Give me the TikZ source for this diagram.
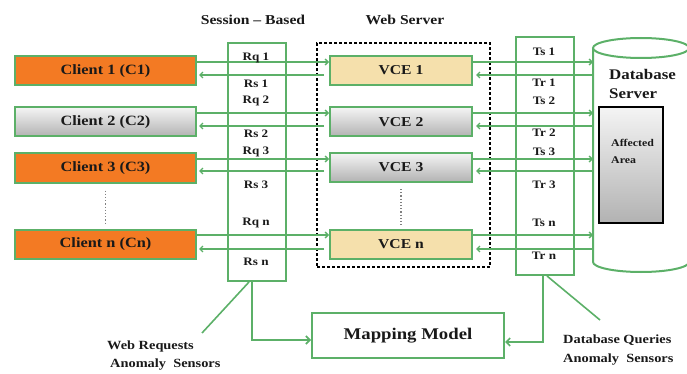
\documentclass[tikz,border=0pt]{standalone}
\usepackage{fontspec}
\setmainfont{Liberation Serif}[FakeStretch=1.15]
\usetikzlibrary{arrows.meta,calc}
\definecolor{grn}{RGB}{92,176,104}
\definecolor{orgc}{RGB}{243,122,35}
\definecolor{tanc}{RGB}{245,224,172}
\definecolor{txt}{RGB}{25,25,25}
\definecolor{greytop}{RGB}{244,244,244}
\definecolor{greybot}{RGB}{178,178,178}
\tikzset{
 box/.style={draw=grn, line width=2pt, inner sep=0pt, text=txt},
 clientbox/.style={box, minimum width=181pt, minimum height=29pt, font=\fontsize{14.2}{16}\selectfont\bfseries},
 cor/.style={clientbox, fill=orgc},
 cgr/.style={clientbox, top color=greytop, bottom color=greybot},
 vcebox/.style={box, minimum width=142pt, minimum height=29pt, font=\fontsize{13.6}{16}\selectfont\bfseries},
 vtan/.style={vcebox, fill=tanc},
 vgr/.style={vcebox, top color=greytop, bottom color=greybot},
 sensor/.style={box, minimum width=58pt, minimum height=238pt},
 lab/.style={text=txt, inner sep=0pt, font=\fontsize{11.4}{13}\selectfont\bfseries},
 ttl/.style={text=txt, inner sep=0pt, font=\fontsize{13.6}{15}\selectfont\bfseries},
 ann/.style={text=txt, inner sep=0pt, anchor=west, font=\fontsize{12.5}{14}\selectfont\bfseries},
 conn/.style={draw=grn, line width=1.3pt, -{Straight Barb[length=3pt,width=6pt]}},
 conn2/.style={draw=grn, line width=1.6pt, -{Straight Barb[length=4pt,width=8pt]}},
 gline/.style={draw=grn, line width=1.6pt},
 dots/.style={draw=gray, dotted, line width=1.2pt},
}
\begin{document}
\begin{tikzpicture}[x=1pt,y=-1pt]
\useasboundingbox (0,0) rectangle (687,374);

% titles
\node[ttl] (t1) at (253,20) {Session -- Based};
\node[ttl] (t2) at (405,20) {Web Server};

% web server dashed box
\node[draw=black, dash pattern=on 3pt off 2pt, line width=1.3pt, minimum width=173pt, minimum height=224pt, inner sep=0pt] (ws) at (403.5,155) {};

% sensor boxes
\node[sensor] (sb) at (257,162) {};
\node[sensor] (tb) at (545,156) {};

% clients
\node[cor] (c1) at (105.5,71) {Client 1 (C1)};
\node[cgr] (c2) at (105.5,122) {Client 2 (C2)};
\node[cor] (c3) at (105.5,168) {Client 3 (C3)};
\node[cor] (cn) at (105.5,244.5) {Client n (Cn)};

% VCEs
\node[vtan] (v1) at (401,70.5) {VCE 1};
\node[vgr] (v2) at (401,122) {VCE 2};
\node[vgr] (v3) at (401,167.5) {VCE 3};
\node[vtan] (vn) at (401,244) {VCE n};

% database cylinder
\begin{scope}
\clip (0,0) rectangle (687,374);
\path[draw=grn, line width=2pt, fill=white] (593,48) -- (593,262)
  arc[start angle=180, end angle=360, x radius=48pt, y radius=10pt] -- (689,48);
\draw[draw=grn, line width=2pt, fill=white] (641,48) ellipse [x radius=48pt, y radius=10pt];
\end{scope}
\coordinate (db) at (593,48);
\node[text=txt, inner sep=0pt, anchor=north west, align=left, font=\fontsize{14.7}{19}\selectfont\bfseries] (dbt) at (609,69) {Database\\Server};
\node[draw=black, line width=1.5pt, top color=greytop, bottom color=greybot, minimum width=64pt, minimum height=116pt, inner sep=0pt] (aa) at (631,165) {};
\node[text=txt, inner sep=0pt, anchor=north west, align=left, font=\fontsize{10.3}{17}\selectfont\bfseries] (aat) at (611,139) {Affected\\Area};

% client <-> VCE <-> DB connectors
\foreach \c/\v/\ya/\yb in {c1/v1/62/75, c2/v2/113/126, c3/v3/159/171, cn/vn/235/249}{
  \draw[conn] (\c.east |- 0,\ya) -- (\v.west |- 0,\ya);
  \draw[conn] ([xshift=-5pt]\v.west |- 0,\yb) -- ([xshift=2pt]\c.east |- 0,\yb);
  \draw[conn] (\v.east |- 0,\ya) -- (db |- 0,\ya);
  \draw[conn] (db |- 0,\yb) -- ([xshift=3pt]\v.east |- 0,\yb);
}

% dotted continuation
\draw[dots] ([yshift=-7pt]c3.south) -- ([yshift=4pt]cn.north);
\draw[dots] ([yshift=-6pt]v3.south) -- ([yshift=4pt]vn.north);

% session labels
\node[lab] (rq1) at (256,58) {Rq 1};
\node[lab] (rs1) at (256,84) {Rs 1};
\node[lab] (rq2) at (256,101) {Rq 2};
\node[lab] (rs2) at (256,134) {Rs 2};
\node[lab] (rq3) at (256,152) {Rq 3};
\node[lab] (rs3) at (256,185) {Rs 3};
\node[lab] (rqn) at (256,223) {Rq n};
\node[lab] (rsn) at (256,262) {Rs n};
% DB labels
\node[lab] (ts1) at (544,52) {Ts 1};
\node[lab] (tr1) at (544,83) {Tr 1};
\node[lab] (ts2) at (544,101) {Ts 2};
\node[lab] (tr2) at (544,133) {Tr 2};
\node[lab] (ts3) at (544,152) {Ts 3};
\node[lab] (tr3) at (544,185) {Tr 3};
\node[lab] (tsn) at (544,223) {Ts n};
\node[lab] (trn) at (544,256) {Tr n};

% mapping model
\node[box, minimum width=192pt, minimum height=45pt, font=\fontsize{16.3}{18}\selectfont\bfseries] (mm) at (408,335.5) {Mapping Model};
\draw[conn2] (sb.south -| 252,0) |- (mm.west |- 0,340);
\draw[conn2] (tb.south -| 543,0) |- (mm.east |- 0,342);

% sensor annotations
\coordinate (wrp) at (202,333);
\coordinate (dqp) at (600,320);
\draw[gline] (sb.south -| 249,0) -- (wrp);
\draw[gline] (tb.south -| 547,0) -- (dqp);
\node[ann] (wr1) at (107,346) {Web Requests};
\node[ann] (wr2) at (110,365) {Anomaly\ \ Sensors};
\node[ann] (dq1) at (563,340) {Database Queries};
\node[ann] (dq2) at (563,360) {Anomaly\ \ Sensors};
\end{tikzpicture}
\end{document}
